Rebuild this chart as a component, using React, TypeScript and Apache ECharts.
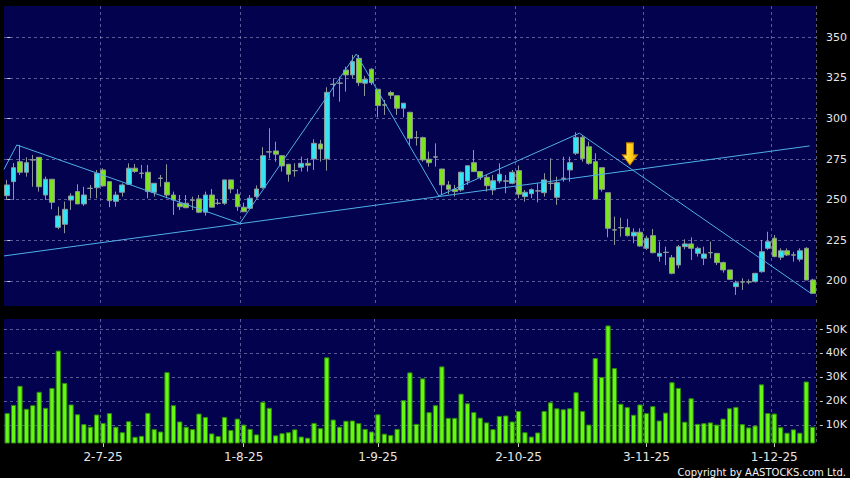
import React, { useEffect, useRef } from 'react';
import * as echarts from 'echarts';

const dates = [
  '2025-06-10','2025-06-11','2025-06-12','2025-06-13','2025-06-16','2025-06-17','2025-06-18','2025-06-19','2025-06-20','2025-06-23','2025-06-24','2025-06-25','2025-06-26','2025-06-27','2025-06-30',
  '2025-07-02','2025-07-03','2025-07-04','2025-07-07','2025-07-08','2025-07-09','2025-07-10','2025-07-11','2025-07-14','2025-07-15','2025-07-16','2025-07-17','2025-07-18','2025-07-21','2025-07-22','2025-07-23','2025-07-24','2025-07-25','2025-07-28','2025-07-29','2025-07-30','2025-07-31',
  '2025-08-01','2025-08-04','2025-08-05','2025-08-06','2025-08-07','2025-08-08','2025-08-11','2025-08-12','2025-08-13','2025-08-14','2025-08-15','2025-08-18','2025-08-19','2025-08-20','2025-08-21','2025-08-22','2025-08-25','2025-08-26','2025-08-27','2025-08-28','2025-08-29',
  '2025-09-01','2025-09-02','2025-09-03','2025-09-04','2025-09-05','2025-09-08','2025-09-09','2025-09-10','2025-09-11','2025-09-12','2025-09-15','2025-09-16','2025-09-17','2025-09-18','2025-09-19','2025-09-22','2025-09-23','2025-09-24','2025-09-25','2025-09-26','2025-09-29','2025-09-30',
  '2025-10-02','2025-10-03','2025-10-06','2025-10-08','2025-10-09','2025-10-10','2025-10-13','2025-10-14','2025-10-15','2025-10-16','2025-10-17','2025-10-20','2025-10-21','2025-10-22','2025-10-23','2025-10-24','2025-10-27','2025-10-28','2025-10-30','2025-10-31',
  '2025-11-03','2025-11-04','2025-11-05','2025-11-06','2025-11-07','2025-11-10','2025-11-11','2025-11-12','2025-11-13','2025-11-14','2025-11-17','2025-11-18','2025-11-19','2025-11-20','2025-11-21','2025-11-24','2025-11-25','2025-11-26','2025-11-27','2025-11-28',
  '2025-12-01','2025-12-02','2025-12-03','2025-12-04','2025-12-05','2025-12-08','2025-12-09',
];

const opens = [
  252.5,261.1,273.4,266.9,274.6,276.1,252.9,262.6,233.0,234.9,
  249.8,255.0,247.4,257.1,257.4,268.3,261.1,249.0,254.6,259.5,
  269.4,266.4,266.9,254.6,263.3,260.7,252.9,247.8,247.8,249.9,
  250.5,242.3,252.9,247.9,247.8,262.2,253.4,245.4,244.7,251.9,
  257.4,279.5,280.0,277.1,271.8,268.0,270.0,272.4,275.1,284.3,
  275.1,321.1,321.8,329.8,326.8,337.0,321.7,330.3,318.0,308.4,
  315.9,314.0,306.3,303.8,288.3,288.2,274.9,276.4,268.9,259.1,
  256.4,256.0,261.5,272.8,267.3,263.8,256.0,261.5,261.6,260.1,
  267.9,251.9,253.7,255.5,254.3,260.2,251.5,263.3,268.3,278.6,
  288.4,282.6,273.4,269.7,254.3,231.5,232.9,232.8,227.7,230.0,
  220.1,227.9,215.2,217.7,214.3,209.8,221.1,222.8,217.0,214.0,
  217.5,217.0,211.3,206.8,196.5,199.5,199.5,199.6,205.7,220.1,
  226.3,214.6,218.6,216.1,213.4,220.1,200.6,
];
const closes = [
  259.1,269.7,266.9,272.8,274.4,258.0,262.6,248.4,240.0,244.1,
  252.3,247.4,252.9,256.9,266.3,258.5,249.4,252.9,259.1,269.4,
  267.4,266.2,255.0,260.1,263.1,252.9,249.8,245.7,245.1,249.7,
  242.3,252.9,245.4,247.7,262.2,256.6,245.7,242.6,250.9,256.6,
  277.1,279.3,278.0,270.8,265.7,267.8,272.4,271.2,284.7,281.2,
  316.1,320.9,321.6,326.8,335.0,322.0,324.1,322.0,307.9,308.2,
  314.3,306.3,309.4,287.8,288.1,274.5,272.8,276.2,259.1,256.4,
  255.0,266.9,270.9,267.3,263.8,258.6,261.7,265.7,261.4,266.9,
  253.4,254.6,256.2,255.3,262.2,260.0,260.5,263.1,272.8,288.4,
  275.3,272.4,250.3,256.4,232.4,231.3,232.7,227.9,230.0,221.5,
  226.3,217.4,217.0,217.5,204.7,221.1,222.8,220.1,220.1,216.6,
  217.3,211.3,206.8,201.0,198.9,199.3,199.3,204.7,218.0,224.2,
  215.0,218.6,216.0,215.9,218.6,200.6,192.4,
];
const lows = [
  249.8,249.8,265.2,264.2,258.0,255.0,249.8,244.1,231.8,229.4,
  243.7,247.4,246.2,250.9,250.9,258.0,245.4,245.7,251.9,259.1,
  266.5,263.2,250.9,251.9,258.0,250.9,240.6,243.7,244.7,243.7,
  241.7,240.2,245.4,246.8,246.8,254.0,243.1,242.6,243.9,250.9,
  256.8,275.5,273.4,267.3,261.1,264.2,267.3,267.3,268.3,273.4,
  267.9,313.4,310.3,316.5,324.7,320.0,313.8,320.6,300.7,302.2,
  312.0,302.2,300.7,283.7,283.3,273.4,270.3,270.3,252.9,253.4,
  251.9,255.0,259.1,267.3,262.2,255.0,252.9,260.1,254.0,259.5,
  250.9,248.8,250.9,248.4,251.9,256.0,246.8,261.1,261.1,277.5,
  273.4,271.5,250.3,255.0,226.9,222.2,227.3,227.3,223.2,221.1,
  219.1,217.0,211.9,209.8,204.1,207.8,219.5,212.9,215.0,209.8,
  214.0,209.8,205.1,200.6,191.4,194.5,198.0,199.0,205.1,219.1,
  214.6,212.9,215.4,211.9,211.9,200.6,192.4,
];
const highs = [
  262.2,272.6,283.7,276.1,277.5,276.1,264.2,262.6,245.7,248.8,
  254.0,259.5,258.0,259.1,268.3,269.4,261.1,255.0,260.1,272.4,
  272.0,271.4,271.4,260.1,265.2,271.8,255.0,252.9,252.9,251.9,
  252.9,255.0,256.6,250.5,262.2,262.2,256.6,248.2,252.9,258.8,
  282.3,294.0,285.7,277.5,272.0,272.4,276.5,275.5,287.2,286.8,
  319.2,324.7,325.7,331.9,339.1,339.1,326.2,330.9,318.0,311.4,
  317.0,314.0,309.4,304.0,292.3,288.8,279.6,284.7,268.9,261.5,
  259.1,267.3,270.9,280.6,267.3,265.2,265.2,272.4,265.2,268.3,
  271.0,256.0,257.0,260.1,266.3,275.5,264.2,276.5,276.5,291.5,
  289.8,285.7,278.6,269.7,254.3,239.6,238.9,238.2,232.4,232.4,
  227.9,232.0,224.2,221.1,216.0,222.2,225.6,226.9,221.1,221.1,
  224.2,217.0,211.9,206.8,200.2,201.7,201.0,205.0,225.2,230.3,
  228.3,220.1,220.1,218.0,220.1,220.8,201.4,
];
const volumes = [
  14900,18300,26300,16700,18200,23800,17100,25400,41000,27500,
  18500,14400,10300,9200,14300,10800,14900,9200,6900,11500,
  5000,5400,15000,8200,7200,32000,18200,11400,9200,8200,
  14700,13300,6400,5300,13300,7800,12600,10100,8300,6000,
  19600,17100,5600,6500,6900,8100,5100,4600,10800,8600,
  38200,12200,9200,11700,11800,10700,8300,7200,14400,6300,
  5700,8300,20300,31900,10400,29400,15300,18200,34400,12900,
  12900,23000,19000,15300,13000,11000,8200,13700,13900,11400,
  15800,6900,5100,6800,15800,19400,16900,16500,16900,23600,
  15800,10100,37900,30000,51500,33700,18800,17400,14200,18500,
  14900,17800,11800,15100,27800,25400,11300,21100,10400,10700,
  11000,10100,12600,16900,17500,10300,8900,9700,26900,14900,
  14700,9000,6700,8100,6700,28100,9200,
];

const labelDates = ['2025-07-02', '2025-08-01', '2025-09-01', '2025-10-02', '2025-11-03', '2025-12-01'];
const priceTicks = [200, 225, 250, 275, 300, 325, 350];
const volumeTicks = [10000, 20000, 30000, 40000, 50000];

// trend lines: [bar index, price]
const zigzagLine = [[-0.5, 268.7], [1.5, 283.7], [36.4, 235.5], [54.6, 339.7], [67.5, 252.3], [89.5, 290.9], [125.7, 192.4]];
const supportLine = [[-0.5, 215.4], [125.5, 283.1]];
const arrowPoint = [97.4, 271.4];

const NAVY = '#02024e';
const CYAN = '#33e4f2';
const GREEN = '#7ee21e';
const WICK = '#8e9898';
const VOL = '#66f713';
const TREND = '#4fb0e8';
const GRIDLINE = 'rgba(150,150,200,0.6)';
const TEXT = '#e6e6e6';
const FONT = '"DejaVu Sans", Verdana, sans-serif';

function fmtDate(d: string) {
  const [y, m, day] = d.split('-');
  return `${parseInt(day, 10)}-${parseInt(m, 10)}-${y.slice(2)}`;
}

export default function App() {
  const ref = useRef<HTMLDivElement>(null);
  useEffect(() => {
    if (!ref.current) return;
    const chart = echarts.init(ref.current, null, { renderer: 'svg' });
    const labelSet = new Set(labelDates.map((d) => dates.indexOf(d)));
    const isLabel = (i: number) => labelSet.has(i);
    const dashed = { show: true, lineStyle: { color: GRIDLINE, type: [3, 3] as any, width: 1 } };

    chart.setOption({
      animation: false,
      backgroundColor: '#000000',
      grid: [
        { left: 4, top: 6, width: 813, height: 300, show: true, backgroundColor: NAVY, borderWidth: 0 },
        { left: 4, top: 319, width: 813, height: 124, show: true, backgroundColor: NAVY, borderWidth: 0 },
      ],
      xAxis: [
        {
          type: 'category', gridIndex: 0, data: dates, boundaryGap: true,
          axisLine: { show: false }, axisTick: { show: false }, axisLabel: { show: false },
          splitLine: { ...dashed, interval: (i: number) => isLabel(i) },
        },
        {
          type: 'category', gridIndex: 1, data: dates, boundaryGap: true,
          axisLine: { show: false },
          axisTick: { show: true, interval: (i: number) => isLabel(i), alignWithLabel: true, length: 4, lineStyle: { color: '#cfcfcf' } },
          axisLabel: { interval: (i: number) => isLabel(i), formatter: (v: string) => fmtDate(v), color: TEXT, fontSize: 12, fontFamily: FONT, margin: 8 },
          splitLine: { ...dashed, interval: (i: number) => isLabel(i) },
        },
        { type: 'value', gridIndex: 0, min: -0.5, max: dates.length - 0.5, show: false },
      ],
      yAxis: [
        {
          type: 'value', gridIndex: 0, position: 'right', min: 184.6, max: 369.2, offset: 4,
          axisLine: { show: false },
          axisTick: { show: true, customValues: priceTicks, length: 3, lineStyle: { color: '#cfcfcf' } },
          axisLabel: { customValues: priceTicks, color: TEXT, fontSize: 11, fontFamily: FONT, margin: 6 },
          splitLine: dashed,
        },
        {
          type: 'value', gridIndex: 1, position: 'right', min: 2400, max: 54200, offset: 4,
          axisLine: { show: false },
          axisTick: { show: true, customValues: volumeTicks, length: 3, lineStyle: { color: '#cfcfcf' } },
          axisLabel: { customValues: volumeTicks, color: TEXT, fontSize: 11, fontFamily: FONT, margin: 6, formatter: (v: number) => `${Math.round(v / 1000)}K` },
          splitLine: dashed,
        },
      ],
      series: [
        {
          type: 'candlestick', xAxisIndex: 0, yAxisIndex: 0,
          data: opens.map((o, i) => [o, closes[i], lows[i], highs[i]]),
          barWidth: 5.2,
          itemStyle: { color: CYAN, color0: GREEN, borderColor: WICK, borderColor0: WICK, borderColorDoji: WICK, borderWidth: 1 },
        },
        {
          type: 'line', xAxisIndex: 2, yAxisIndex: 0, data: zigzagLine, symbol: 'none',
          lineStyle: { color: TREND, width: 1 },
          markPoint: {
            symbol: 'path://M4,0 L11,0 L11,12 L15,12 L7.5,22 L0,12 L4,12 Z',
            symbolSize: [15, 22],
            symbolOffset: [0, '-50%'],
            label: { show: false },
            itemStyle: {
              color: new echarts.graphic.LinearGradient(0, 0, 1, 0, [
                { offset: 0, color: '#fff06a' },
                { offset: 0.5, color: '#ffd21c' },
                { offset: 1, color: '#f0a400' },
              ]),
              borderColor: '#c88000', borderWidth: 1,
            },
            data: [{ coord: arrowPoint }],
          },
        },
        {
          type: 'line', xAxisIndex: 2, yAxisIndex: 0, data: supportLine, symbol: 'none',
          lineStyle: { color: TREND, width: 1 },
        },
        {
          type: 'bar', xAxisIndex: 1, yAxisIndex: 1, data: volumes, barCategoryGap: '18%',
          itemStyle: { color: VOL, borderColor: '#2e8a0c', borderWidth: 1 },
        },
      ],
      graphic: [
        {
          type: 'text', right: 4, bottom: 1,
          style: { text: 'Copyright by AASTOCKS.com Ltd.', fill: '#f2f2f2', font: `10px ${FONT}` },
        },
      ],
    });
    return () => chart.dispose();
  }, []);
  return <div ref={ref} style={{ width: 850, height: 478, position: 'absolute', left: 0, top: 0 }} />;
}
